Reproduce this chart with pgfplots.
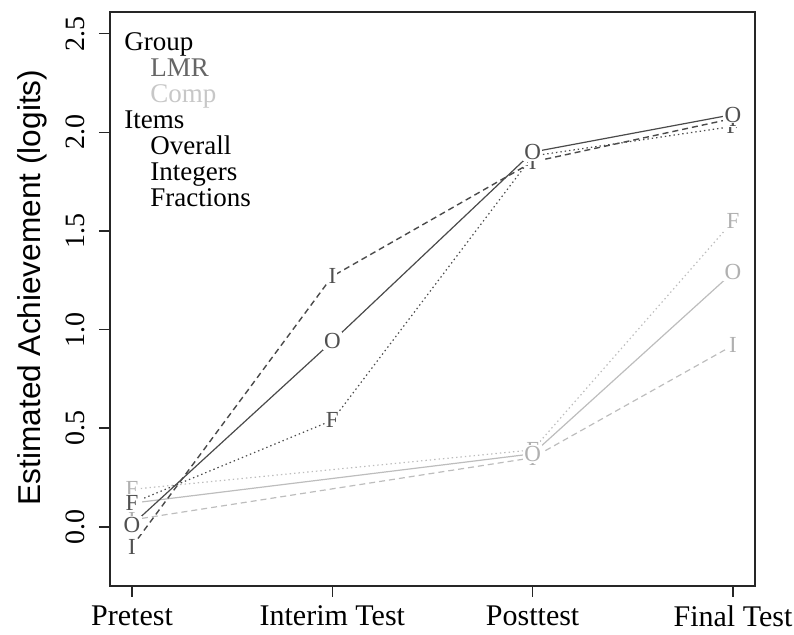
\documentclass[border=0pt]{standalone}
\usepackage{pgfplots}
\pgfplotsset{compat=1.18}
\usepackage{fontspec}
\setmainfont{Liberation Serif}
\newfontfamily\labsans{Liberation Sans}
\definecolor{lmr}{HTML}{4A4A4A}
\definecolor{lmrlab}{HTML}{505050}
\definecolor{comp}{HTML}{BDBDBD}
\definecolor{complab}{HTML}{B0B0B0}
\begin{document}
\begin{tikzpicture}
\begin{axis}[
  scale only axis, width=322.5pt, height=287pt,
  xmin=-0.11, xmax=3.11, ymin=-0.30, ymax=2.61,
  axis line style={line width=0.8pt, black!85},
  xtick={0,1,2,3},
  xticklabels={Pretest, Interim Test, Posttest, Final Test},
  ytick={0,0.5,1,1.5,2,2.5},
  yticklabel style={rotate=90, anchor=south, /pgf/number format/fixed, /pgf/number format/precision=1, /pgf/number format/fixed zerofill},
  /pgf/number format/assume math mode=true,
  tick align=outside, major tick length=5.5pt,
  xtick pos=bottom, ytick pos=left,
  yticklabel shift=3.75pt, xticklabel shift=1pt,
  tick style={black!85, line width=0.7pt},
  xticklabel style={font=\fontsize{15}{15}\selectfont},
  yticklabel style={font=\fontsize{14}{14}\selectfont},
  every axis y label/.style={at={(rel axis cs:-0.121,0.52)}, anchor=center, rotate=90, font=\labsans\fontsize{15.8}{15.8}\selectfont},
  ylabel={Estimated Achievement (logits)},
  clip=false,
  every node near coord/.append style={anchor=center, inner sep=0.6pt, fill=white, font=\fontsize{11.5}{11.5}\selectfont},
]
% Comp group
\addplot[comp, line width=0.6pt, dash pattern=on 3pt off 2pt, nodes near coords={I}, every node near coord/.append style={text=complab}] coordinates {(0,0.035) (2,0.35) (3,0.92)};
\addplot[comp, line width=0.6pt, dash pattern=on 0.7pt off 1.5pt, nodes near coords={F}, every node near coord/.append style={text=complab}] coordinates {(0,0.19) (2,0.39) (3,1.55)};
\addplot[comp, line width=0.6pt, nodes near coords={O}, every node near coord/.append style={text=complab}] coordinates {(0,0.12) (2,0.37) (3,1.29)};
% LMR group
\addplot[lmr, line width=0.6pt, dash pattern=on 0.7pt off 1.5pt, nodes near coords={F}, every node near coord/.append style={text=lmrlab}] coordinates {(0,0.12) (1,0.54) (2,1.88) (3,2.03)};
\addplot[lmr, line width=0.7pt, dash pattern=on 3pt off 2pt, nodes near coords={I}, every node near coord/.append style={text=lmrlab}] coordinates {(0,-0.10) (1,1.27) (2,1.85) (3,2.07)};
\addplot[lmr, line width=0.6pt, nodes near coords={O}, every node near coord/.append style={text=lmrlab}] coordinates {(0,0.01) (1,0.94) (2,1.90) (3,2.09)};
\node[anchor=north west, inner sep=0pt, align=left, font=\fontsize{13.5}{13}\selectfont] at (rel axis cs:0.0217,0.966) {%
\begin{tabular}{@{}l@{}}
Group\\
\hspace{13pt}\textcolor{black!60}{LMR}\\
\hspace{13pt}\textcolor{black!22}{Comp}\\
Items\\
\hspace{13pt}Overall\\
\hspace{13pt}Integers\\
\hspace{13pt}Fractions
\end{tabular}};
\coordinate (bl) at (rel axis cs:0,0);
\coordinate (tr) at (rel axis cs:1,1);
\end{axis}
\pgfresetboundingbox
\path ([shift={(-55pt,-24.5pt)}]bl) rectangle ([shift={(19.5pt,6pt)}]tr);
\end{tikzpicture}
\end{document}
